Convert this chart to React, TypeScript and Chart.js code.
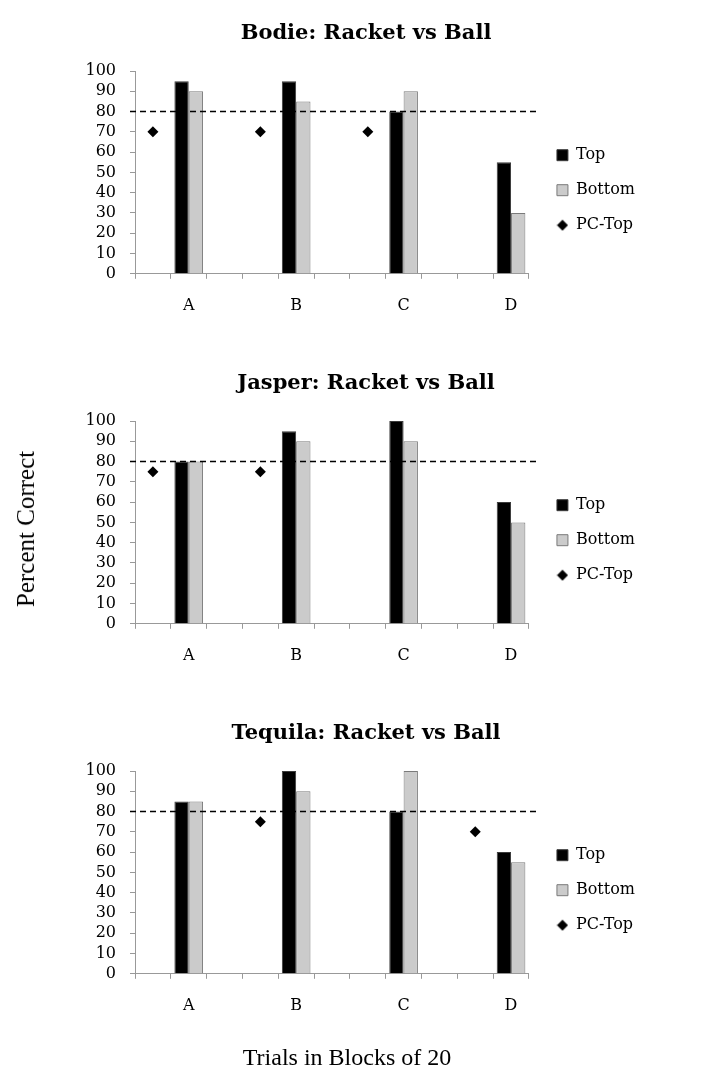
import React, { useEffect, useRef } from 'react';
import { Chart, registerables } from 'chart.js';

Chart.register(...registerables);

// ---- data ----
const categories = ['A', 'B', 'C', 'D'];
const chartTitles = ['Bodie: Racket vs Ball', 'Jasper: Racket vs Ball', 'Tequila: Racket vs Ball'];
const seriesNames = ['Top', 'Bottom', 'PC-Top'];

const bodieTop = [95, 95, 80, 55];
const bodieBottom = [90, 85, 90, 30];
const bodiePC = [70, 70, 70, null];

const jasperTop = [80, 95, 100, 60];
const jasperBottom = [80, 90, 90, 50];
const jasperPC = [75, 75, null, null];

const tequilaTop = [85, 100, 80, 60];
const tequilaBottom = [85, 90, 100, 55];
const tequilaPC = [null, 75, null, 70];

const criterion = 80;
const yMin = 0;
const yMax = 100;
const yStep = 10;

const yAxisTitle = 'Percent Correct';
const xAxisTitle = 'Trials in Blocks of 20';

// ---- style / layout ----
const W = 703;
const BLOCK_H = 350;
const SERIF = '"DejaVu Serif", serif';
const LEGEND_DX = 9;
const LEGEND_DY = 13.5;
const TITLE_DX = 5;

// Build slot layout: for each category a PC slot, a bar slot, then a gap (except last)
function buildSlots(top: (number | null)[], bottom: (number | null)[], pc: (number | null)[]) {
  const labels: string[] = [];
  const t: (number | null)[] = [];
  const b: (number | null)[] = [];
  const p: (number | null)[] = [];
  categories.forEach((cat, i) => {
    labels.push('');
    t.push(null); b.push(null); p.push(pc[i]);
    labels.push(cat);
    t.push(top[i]); b.push(bottom[i]); p.push(null);
    if (i < categories.length - 1) {
      labels.push('');
      t.push(null); b.push(null); p.push(null);
    }
  });
  return { labels, t, b, p };
}

const thresholdPlugin = {
  id: 'threshold',
  afterDatasetsDraw(chart: any) {
    const ctx = chart.ctx;
    const y = chart.scales.y.getPixelForValue(criterion);
    const { left, right } = chart.chartArea;
    ctx.save();
    ctx.setLineDash([6, 4]);
    ctx.lineWidth = 1.5;
    ctx.strokeStyle = '#000';
    ctx.beginPath();
    ctx.moveTo(left - 5, y);
    ctx.lineTo(right + 10, y);
    ctx.stroke();
    ctx.restore();
  },
};

const shiftPlugin = {
  id: 'shiftBoxes',
  afterLayout(chart: any) {
    const lg = chart.legend;
    if (lg) {
      lg.left += LEGEND_DX; lg.right += LEGEND_DX;
      lg.top += LEGEND_DY; lg.bottom += LEGEND_DY;
    }
    const t = chart.titleBlock;
    if (t) { t.left += TITLE_DX; t.right += TITLE_DX; }
  },
};

function makeDiamond(): HTMLCanvasElement {
  const c = document.createElement('canvas');
  c.width = 12; c.height = 12;
  const g = c.getContext('2d')!;
  g.fillStyle = '#000';
  g.beginPath();
  g.moveTo(6, 0.5); g.lineTo(11.5, 6); g.lineTo(6, 11.5); g.lineTo(0.5, 6);
  g.closePath();
  g.fill();
  return c;
}

function Panel({ title, top, bottom, pc }: { title: string; top: (number | null)[]; bottom: (number | null)[]; pc: (number | null)[] }) {
  const ref = useRef<HTMLCanvasElement>(null);
  useEffect(() => {
    if (!ref.current) return;
    const { labels, t, b, p } = buildSlots(top, bottom, pc);
    const diamond = makeDiamond();
    const chart = new Chart(ref.current, {
      type: 'bar',
      data: {
        labels,
        datasets: [
          {
            label: seriesNames[0], data: t, backgroundColor: '#000', borderColor: '#3a3a3a', borderWidth: 1,
            categoryPercentage: 0.8, barPercentage: 1, pointStyle: 'rect',
          } as any,
          {
            label: seriesNames[1], data: b, backgroundColor: '#cbcbcb', borderColor: '#7a7a7a', borderWidth: 1,
            categoryPercentage: 0.8, barPercentage: 1, pointStyle: 'rect',
          } as any,
          {
            type: 'line', label: seriesNames[2], data: p, showLine: false, pointStyle: 'rectRot',
            pointRadius: 5.5, backgroundColor: '#000', borderColor: '#000', borderWidth: 0, spanGaps: false,
          } as any,
        ],
      },
      options: {
        responsive: false,
        animation: false,
        events: [],
        layout: { padding: { left: 86, right: 67, top: 21.4, bottom: 18 } },
        plugins: {
          title: {
            display: true, text: title, color: '#000',
            font: { family: SERIF, size: 21, weight: 'bold' },
            padding: { top: 0, bottom: 24.4 },
          },
          legend: {
            position: 'right',
            labels: {
              usePointStyle: true, boxWidth: 11, boxHeight: 11, padding: 19, color: '#000',
              font: { family: SERIF, size: 16 },
              generateLabels(ch: any) {
                const items = Chart.defaults.plugins.legend.labels.generateLabels(ch);
                items.forEach((it: any) => {
                  if (it.datasetIndex === 2) { it.pointStyle = diamond; }
                });
                return items;
              },
            },
          },
          tooltip: { enabled: false },
        },
        scales: {
          x: {
            grid: { display: true, drawOnChartArea: false, drawTicks: true, tickLength: 5, color: '#999', offset: true },
            border: { display: true, color: '#999', width: 1 },
            ticks: { autoSkip: false, maxRotation: 0, color: '#000', padding: 17, font: { family: SERIF, size: 16 } },
          },
          y: {
            min: yMin, max: yMax,
            afterFit(scale: any) { scale.width = 49; },
            grid: { display: true, drawOnChartArea: false, drawTicks: true, tickLength: 5, color: '#999' },
            border: { display: true, color: '#999', width: 1 },
            ticks: { stepSize: yStep, autoSkip: false, color: '#000', padding: 14, font: { family: SERIF, size: 16 } },
          },
        },
      } as any,
      plugins: [thresholdPlugin, shiftPlugin],
    });
    return () => chart.destroy();
  }, []);
  return <canvas ref={ref} width={W} height={BLOCK_H} style={{ display: 'block', width: W, height: BLOCK_H }} />;
}

export default function App() {
  const panels = [
    { title: chartTitles[0], top: bodieTop, bottom: bodieBottom, pc: bodiePC },
    { title: chartTitles[1], top: jasperTop, bottom: jasperBottom, pc: jasperPC },
    { title: chartTitles[2], top: tequilaTop, bottom: tequilaBottom, pc: tequilaPC },
  ];
  return (
    <div style={{ position: 'absolute', left: 0, top: 0, width: W, height: 1080, background: '#fff', overflow: 'hidden' }}>
      {panels.map((p, i) => (
        <div key={i} style={{ position: 'absolute', left: 0, top: i * BLOCK_H }}>
          <Panel title={p.title} top={p.top} bottom={p.bottom} pc={p.pc} />
        </div>
      ))}
      <div style={{
        position: 'absolute', left: 26, top: 529, transform: 'translate(-50%, -50%) rotate(-90deg)',
        whiteSpace: 'nowrap', fontFamily: '"Liberation Serif", serif', fontSize: 25, color: '#000',
      }}>{yAxisTitle}</div>
      <div style={{
        position: 'absolute', left: 347, top: 1057, transform: 'translate(-50%, -50%)',
        whiteSpace: 'nowrap', fontFamily: '"Liberation Serif", serif', fontSize: 24, color: '#000',
      }}>{xAxisTitle}</div>
    </div>
  );
}
